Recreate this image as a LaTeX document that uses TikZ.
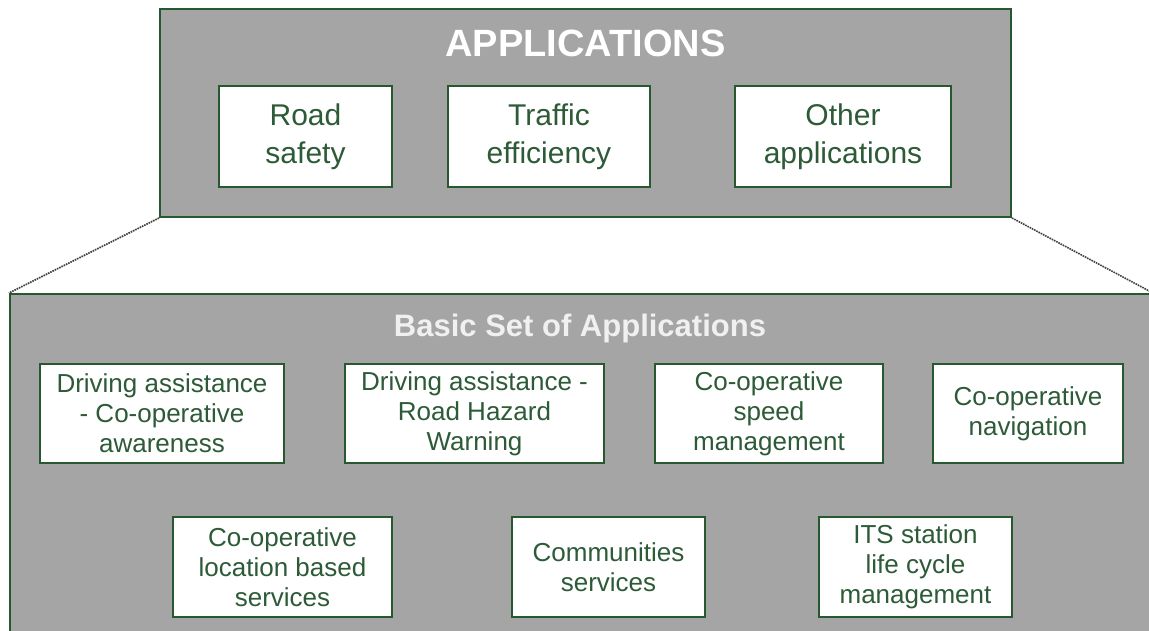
\documentclass[tikz,border=0pt]{standalone}
\usepackage{fontspec}
\setmainfont{Liberation Sans}
\definecolor{boxgray}{RGB}{165,165,165}
\definecolor{dgreen}{RGB}{40,88,48}
\definecolor{txtgreen}{RGB}{45,90,55}
\begin{document}
\begin{tikzpicture}[x=1pt,y=-1pt,
  panel/.style={draw=dgreen, line width=2pt, fill=boxgray, rectangle, inner sep=0pt},
  appbox/.style={draw=dgreen, line width=1.6pt, fill=white, text=txtgreen, align=center, inner sep=0pt, rectangle, font=\fontsize{30}{38}\selectfont},
  subbox/.style={appbox, font=\fontsize{26}{30}\selectfont},
  link/.style={draw=black!75, line width=1.6pt, dash pattern=on 1.6pt off 0.9pt}]
\useasboundingbox (0,0) rectangle (1149,630);
\clip (0,0) rectangle (1149,630);
\fill[white] (0,0) rectangle (1149,630);
% panels
\node[panel, minimum width=851pt, minimum height=208pt] (top) at (585.5,113) {};
\node[panel, minimum width=1142pt, minimum height=346pt] (bottom) at (581,467) {};
% titles
\node[font=\fontsize{38}{40}\selectfont\bfseries, text=white, anchor=base] (title) at (585.5,56) {APPLICATIONS};
\node[font=\fontsize{31}{34}\selectfont\bfseries, text=white!94!black, anchor=base] (basic) at (580,336) {Basic Set of Applications};
% application boxes
\node[appbox, minimum width=173pt, minimum height=101pt] (road) at (305.5,136.5) {Road\\safety};
\node[appbox, minimum width=202pt, minimum height=101pt] (traffic) at (549,136.5) {Traffic\\efficiency};
\node[appbox, minimum width=216pt, minimum height=101pt] (other) at (843,136.5) {Other\\applications};
% basic set, row 1
\node[subbox, minimum width=244pt, minimum height=99pt] (awareness) at (162,413.5) {Driving assistance\\- Co-operative\\awareness};
\node[subbox, minimum width=259pt, minimum height=99pt] (hazard) at (474.5,413.5) {Driving assistance -\\Road Hazard\\Warning};
\node[subbox, minimum width=228pt, minimum height=99pt] (speed) at (769,413.5) {Co-operative\\speed\\management};
\node[subbox, minimum width=190pt, minimum height=99pt] (navigation) at (1028,413.5) {Co-operative\\navigation};
% basic set, row 2
\node[subbox, minimum width=219pt, minimum height=100pt] (location) at (282.5,567) {Co-operative\\location based\\services};
\node[subbox, minimum width=193pt, minimum height=100pt] (communities) at (608.5,567) {Communities\\services};
\node[subbox, minimum width=193pt, minimum height=100pt] (lifecycle) at (915.5,567) {ITS station\\life cycle\\management};
% connectors
\draw[link] (top.south west) -- (bottom.north west);
\draw[link] (top.south east) -- (bottom.north east);
\end{tikzpicture}
\end{document}
